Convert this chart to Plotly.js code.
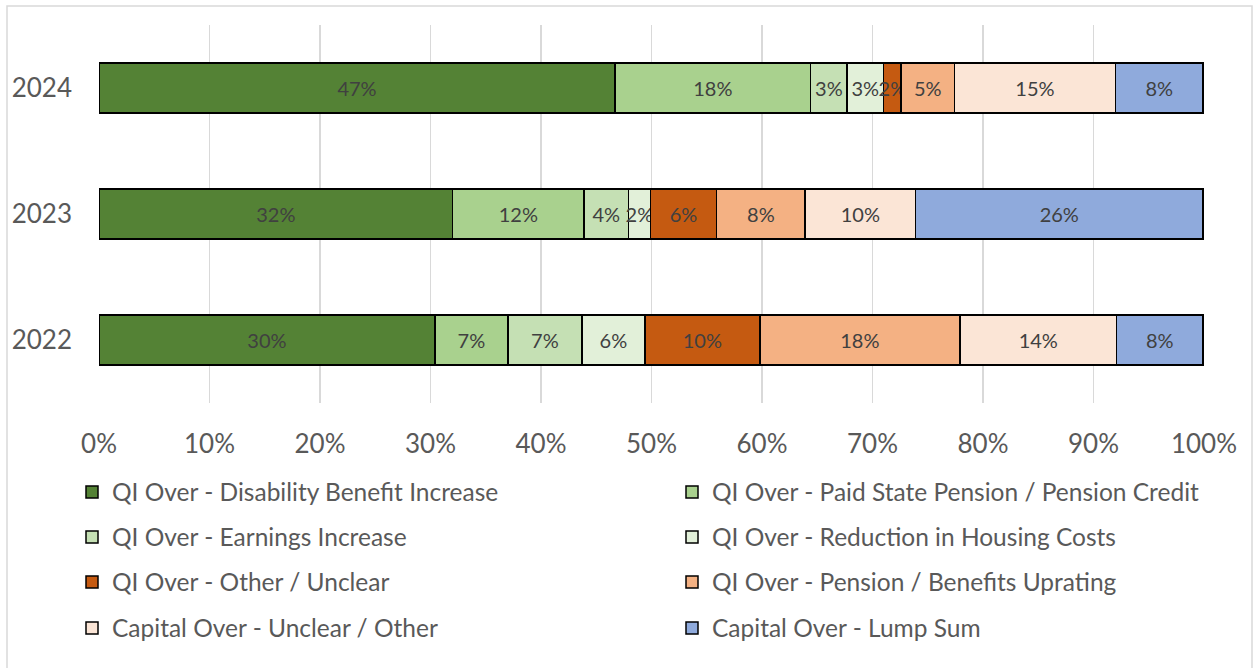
<!DOCTYPE html>
<html>
<head>
<meta charset="utf-8">
<script src="https://cdn.plot.ly/plotly-3.0.1.min.js"></script>
<style>html,body{margin:0;padding:0;background:#fff;}#chart{width:1253px;height:668px;}</style>
</head>
<body>
<div id="chart"></div>
<script>
// Data (shares of total, %)
const years = ["2022", "2023", "2024"];
const seriesNames = [
  "QI Over - Disability Benefit Increase",
  "QI Over - Paid State Pension / Pension Credit",
  "QI Over - Earnings Increase",
  "QI Over - Reduction in Housing Costs",
  "QI Over - Other / Unclear",
  "QI Over - Pension / Benefits Uprating",
  "Capital Over - Unclear / Other",
  "Capital Over - Lump Sum"
];
const disabilityBenefit = [30.4, 32.0, 46.7];
const paidStatePension  = [6.6, 11.9, 17.7];
const earningsIncrease  = [6.7, 4.0, 3.3];
const housingCosts      = [5.7, 2.0, 3.3];
const otherUnclear      = [10.4, 6.0, 1.6];
const benefitsUprating  = [18.1, 8.0, 4.8];
const capitalOther      = [14.2, 10.0, 14.6];
const capitalLumpSum    = [7.8, 26.0, 7.9];
const seriesValues = [disabilityBenefit, paidStatePension, earningsIncrease, housingCosts,
                      otherUnclear, benefitsUprating, capitalOther, capitalLumpSum];
const colors = ["#548235", "#A9D18E", "#C5E0B4", "#E2F0D9", "#C55A11", "#F4B183", "#FBE5D6", "#8FAADC"];
const xTicks = [0,10,20,30,40,50,60,70,80,90,100];

const FONT = "Lato, 'Open Sans', sans-serif";
const plotL = 99, plotR = 1204, plotT = 25, plotB = 403;
const pw = plotR - plotL, ph = plotB - plotT;
const px2x = p => (p - plotL) / pw;
const px2y = p => (plotB - p) / ph;

const traces = seriesNames.map((name, i) => ({
  type: "bar",
  orientation: "h",
  name: name,
  y: years,
  x: seriesValues[i],
  text: seriesValues[i].map(v => Math.round(v) + "%"),
  textposition: "inside",
  insidetextanchor: "middle",
  constraintext: "none",
  textangle: 0,
  textfont: {family: FONT, size: 20, color: "#404040"},
  cliponaxis: false,
  marker: {color: colors[i], line: {color: "#000000", width: 1.5}},
  hoverinfo: "skip",
  legend: i === 0 ? "legend" : "legend" + (i + 1)
}));

const layout = {
  width: 1253, height: 668,
  margin: {l: plotL, r: 1253 - plotR, t: plotT, b: 668 - plotB},
  paper_bgcolor: "#ffffff",
  plot_bgcolor: "#ffffff",
  barmode: "stack",
  bargap: 0.6,
  uniformtext: {mode: false},
  font: {family: FONT, color: "#595959"},
  xaxis: {
    range: [0, 100],
    tickvals: xTicks,
    ticktext: xTicks.map(v => v + "%"),
    showgrid: true, gridcolor: "#D9D9D9", gridwidth: 1.5,
    zeroline: false, showline: false, ticks: "",
    ticklabelstandoff: 23,
    tickfont: {family: FONT, size: 26, color: "#595959"},
    fixedrange: true
  },
  yaxis: {
    type: "category",
    categoryorder: "array", categoryarray: years,
    range: [-0.5, 2.5],
    showgrid: false, zeroline: false, showline: false, ticks: "",
    ticklabelstandoff: 26,
    tickfont: {family: FONT, size: 26, color: "#595959"},
    fixedrange: true
  },
  showlegend: true,
  shapes: [{
    type: "rect", xref: "paper", yref: "paper",
    x0: px2x(7), x1: px2x(1252), y0: px2y(700), y1: px2y(6),
    line: {color: "#D9D9D9", width: 1.5}, fillcolor: "rgba(0,0,0,0)", layer: "below"
  }]
};

// one legend per entry, arranged in two columns / four rows
const rowY = [492, 537, 582, 628];
const colX = [72, 672];
seriesNames.forEach((n, i) => {
  const key = i === 0 ? "legend" : "legend" + (i + 1);
  const r = Math.floor(i / 2), c = i % 2;
  layout[key] = {
    x: px2x(colX[c]), xanchor: "left",
    y: px2y(rowY[r]), yanchor: "middle",
    bgcolor: "rgba(0,0,0,0)", borderwidth: 0,
    itemwidth: 30,
    font: {family: FONT, size: 24.5, color: "#595959"}
  };
});

Plotly.newPlot("chart", traces, layout, {displayModeBar: false, staticPlot: true});
</script>
</body>
</html>
